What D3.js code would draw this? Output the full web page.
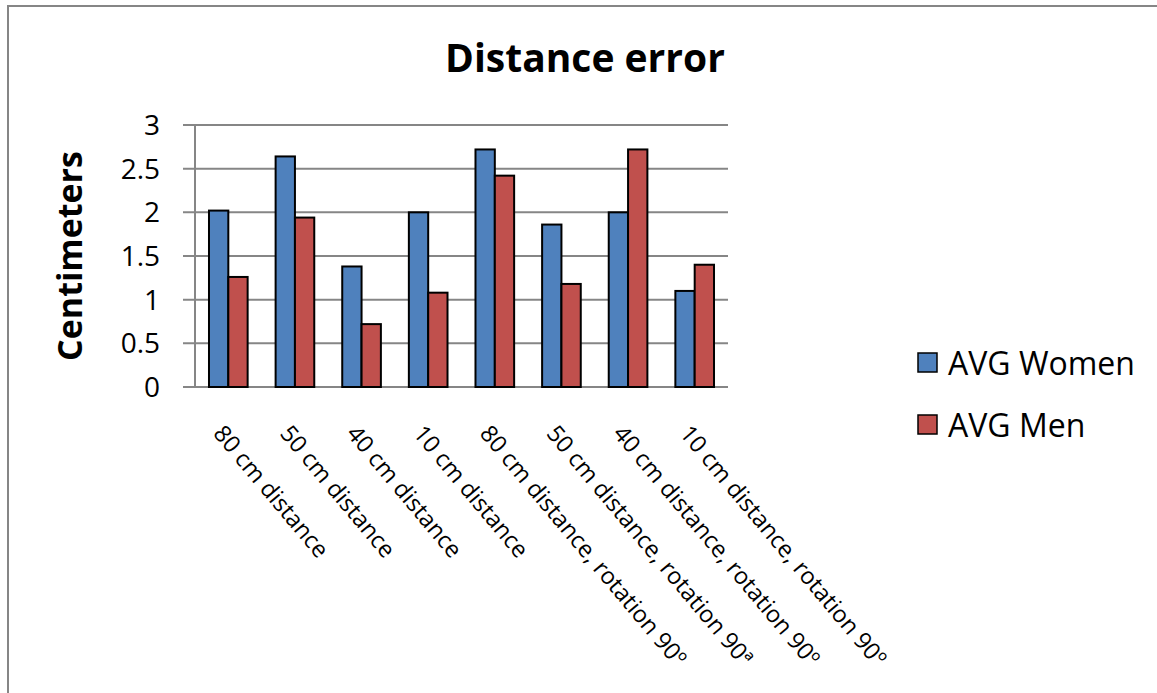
<!DOCTYPE html>
<html>
<head>
<meta charset="utf-8">
<script src="https://cdn.jsdelivr.net/npm/d3@7"></script>
<style>
  body { margin: 0; background: #fff; }
  text { font-family: "Open Sans", "Noto Sans", sans-serif; }
</style>
</head>
<body>
<div id="chart"></div>
<script>
// data
var categories = ["80 cm distance", "50 cm distance", "40 cm distance", "10 cm distance",
  "80 cm distance, rotation 90º", "50 cm distance, rotation 90ª",
  "40 cm distance, rotation 90º", "10 cm distance, rotation 90º"];
var women = [2.02, 2.64, 1.38, 2.0, 2.72, 1.86, 2.0, 1.10];
var men = [1.26, 1.94, 0.72, 1.08, 2.42, 1.18, 2.72, 1.40];
var seriesNames = ["AVG Women", "AVG Men"];
var seriesColors = ["#4F81BD", "#C0504D"];
var yTicks = [0, 0.5, 1, 1.5, 2, 2.5, 3];

var W = 1157, H = 693;
var margin = {top: 125, left: 195, right: W - 728, bottom: H - 387};

var svg = d3.select("#chart").append("svg")
  .attr("width", W)
  .attr("height", H);

// outer frame (only top and left visible)
svg.append("path")
  .attr("d", "M8,693 L8,6 L1157,6")
  .attr("fill", "none")
  .attr("stroke", "#868686")
  .attr("stroke-width", 2);

var x = d3.scaleBand()
  .domain(categories)
  .range([margin.left, W - margin.right])
  .paddingInner(0.42)
  .paddingOuter(0.21);

var xs = d3.scaleBand()
  .domain(seriesNames)
  .range([0, x.bandwidth()]);

var y = d3.scaleLinear()
  .domain([0, 3])
  .range([H - margin.bottom, margin.top]);

// gridlines
svg.append("g")
  .selectAll("line")
  .data(yTicks)
  .enter().append("line")
    .attr("x1", margin.left - 12)
    .attr("x2", W - margin.right)
    .attr("y1", function(d) { return y(d); })
    .attr("y2", function(d) { return y(d); })
    .attr("stroke", "#868686")
    .attr("stroke-width", 2);

// y axis line
svg.append("line")
  .attr("x1", margin.left).attr("x2", margin.left)
  .attr("y1", y(3)).attr("y2", y(0))
  .attr("stroke", "#868686")
  .attr("stroke-width", 2);

// y tick labels
svg.append("g")
  .selectAll("text")
  .data(yTicks)
  .enter().append("text")
    .attr("x", 160)
    .attr("y", function(d) { return y(d); })
    .attr("dy", "0.36em")
    .attr("text-anchor", "end")
    .attr("font-size", 28)
    .attr("fill", "#000")
    .text(function(d) { return d; });

// bars
var rows = categories.map(function(c, i) { return {cat: c, vals: [women[i], men[i]]}; });
var groups = svg.append("g")
  .selectAll("g")
  .data(rows)
  .enter().append("g")
    .attr("transform", function(d) { return "translate(" + x(d.cat) + ",0)"; });

groups.selectAll("rect")
  .data(function(d) { return d.vals.map(function(v, j) { return {name: seriesNames[j], v: v, j: j}; }); })
  .enter().append("rect")
    .attr("x", function(d) { return xs(d.name); })
    .attr("y", function(d) { return y(d.v); })
    .attr("width", xs.bandwidth())
    .attr("height", function(d) { return y(0) - y(d.v); })
    .attr("fill", function(d) { return seriesColors[d.j]; })
    .attr("stroke", "#000")
    .attr("stroke-width", 2);

// x labels, rotated
svg.append("g")
  .selectAll("text")
  .data(categories)
  .enter().append("text")
    .attr("transform", function(d) {
      return "translate(" + (x(d) + x.bandwidth() / 2 - 16) + ",434) rotate(50)";
    })
    .attr("font-size", 23.5)
    .attr("fill", "#000")
    .text(function(d) { return d; });

// title
svg.append("text")
  .attr("x", 585)
  .attr("y", 72)
  .attr("text-anchor", "middle")
  .attr("font-size", 39)
  .attr("font-weight", "bold")
  .text("Distance error");

// y axis title
svg.append("text")
  .attr("transform", "translate(82," + (y(1.5)) + ") rotate(-90)")
  .attr("text-anchor", "middle")
  .attr("font-size", 34)
  .attr("font-weight", "bold")
  .text("Centimeters");

// legend
var legend = svg.append("g")
  .selectAll("g")
  .data(seriesNames)
  .enter().append("g")
    .attr("transform", function(d, i) { return "translate(918," + (353 + i * 62) + ")"; });
legend.append("rect")
  .attr("width", 19)
  .attr("height", 19)
  .attr("fill", function(d, i) { return seriesColors[i]; })
  .attr("stroke", "#000")
  .attr("stroke-width", 1.5);
legend.append("text")
  .attr("x", 30)
  .attr("y", 10)
  .attr("dy", "0.36em")
  .attr("font-size", 32)
  .text(function(d) { return d; });
</script>
</body>
</html>
